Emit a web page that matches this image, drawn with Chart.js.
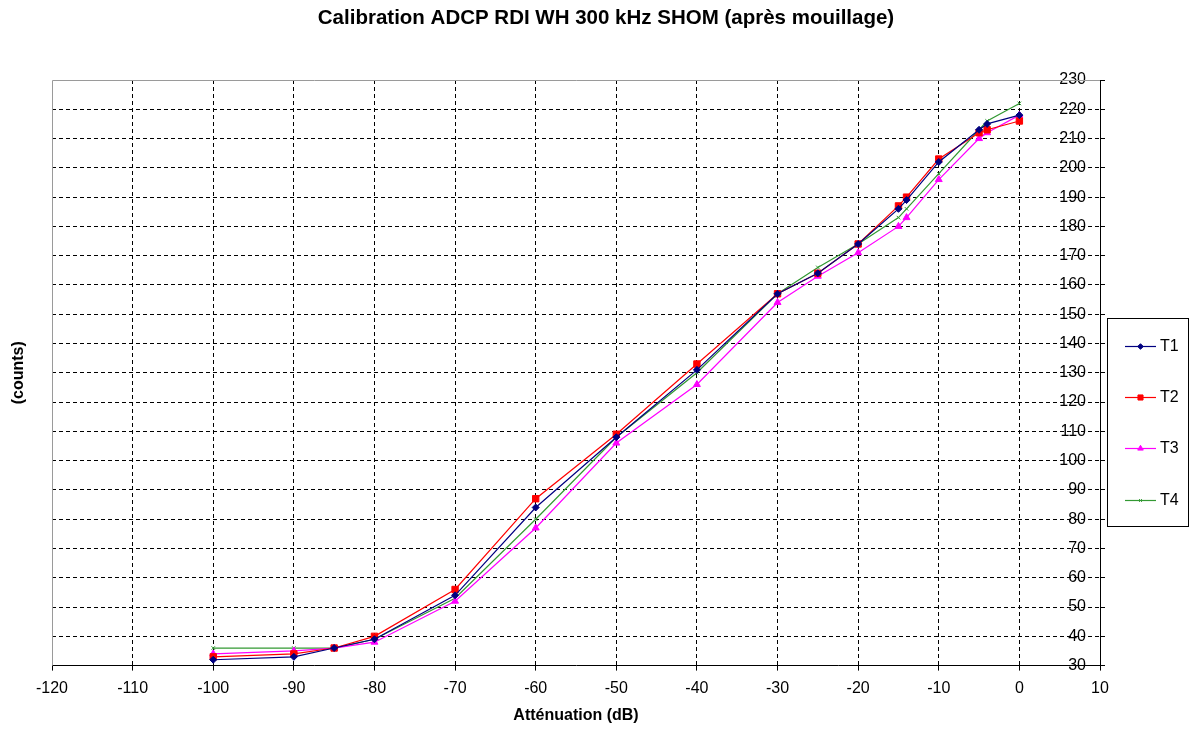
<!DOCTYPE html>
<html>
<head>
<meta charset="utf-8">
<script src="https://cdn.jsdelivr.net/npm/chart.js@4.4.0/dist/chart.umd.min.js"></script>
<style>
  html, body { margin: 0; padding: 0; background: #fff; }
  #wrap { width: 1191px; height: 731px; }
</style>
</head>
<body>
<div id="wrap"><canvas id="mycanvas" width="1191" height="731"></canvas></div>
<script>
// attenuation (dB)
var attenuation = [-100, -90, -85, -80, -70, -60, -50, -40, -30, -25, -20, -15, -14, -10, -5, -4, 0];
// counts per beam
var t1 = [32, 33, 36, 39, 54, 84, 108, 131, 157, 164, 174, 186, 189, 202, 213, 215, 218];
var t2 = [33, 34, 36, 40, 56, 87, 109, 133, 157, 164, 174, 187, 190, 203, 212, 213, 216];
var t3 = [34, 35, 36, 38, 52, 77, 106, 126, 154, 163, 171, 180, 183, 196, 210, 212, 218];
var t4 = [36, 36, 36, 39, 53, 80, 108, 130, 157, 166, 174, 183, 186, 198, 213, 216, 222];
var seriesNames = ['T1', 'T2', 'T3', 'T4'];
var chartTitle = 'Calibration ADCP RDI WH 300 kHz SHOM (après mouillage)';

var FONT = 'Liberation Sans, Arial, sans-serif';

function pts(ys) {
    var out = [];
    for (var i in attenuation) {
        out.push({x: attenuation[i], y: ys[i]});
    }
    return out;
}

function mkSet(label, ys, color, style, r) {
    return {
        label: label,
        data: pts(ys),
        borderColor: color,
        backgroundColor: color,
        borderWidth: 1.2,
        pointStyle: style,
        pointRadius: r,
        pointBorderWidth: 1,
        pointBorderColor: color,
        pointBackgroundColor: color,
        tension: 0
    };
}

var chartdata = {
    datasets: [
        mkSet(seriesNames[0], t1, '#000080', 'rectRot', 3.5),
        mkSet(seriesNames[1], t2, '#ff0000', 'rect', 4.5),
        mkSet(seriesNames[2], t3, '#ff00ff', 'triangle', 4),
        mkSet(seriesNames[3], t4, '#339933', 'crossRot', 2.5)
    ]
};

// title, plot border, y title and boxed legend
var extras = {
    id: 'extras',
    beforeDatasetsDraw: function(chart) {
        var a = chart.chartArea, c = chart.ctx;
        c.save();
        c.strokeStyle = '#9a9a9a';
        c.lineWidth = 1;
        c.beginPath();
        c.moveTo(a.left + 0.5, a.bottom);
        c.lineTo(a.left + 0.5, a.top + 0.5);
        c.lineTo(a.right, a.top + 0.5);
        c.stroke();
        c.restore();
    },
    afterDraw: function(chart) {
        var a = chart.chartArea, c = chart.ctx;
        c.save();
        c.font = 'bold 20.5px ' + FONT;
        c.fillStyle = '#000';
        c.textAlign = 'center';
        c.textBaseline = 'middle';
        c.fillText(chartTitle, 606, 18);
        c.restore();

        c.save();
        // y title on the left side
        c.translate(19, (a.top + a.bottom) / 2);
        c.rotate(-Math.PI / 2);
        c.font = 'bold 16px ' + FONT;
        c.fillStyle = '#000';
        c.textAlign = 'center';
        c.textBaseline = 'middle';
        c.fillText('(counts)', 0, 0);
        c.restore();

        // legend box
        c.save();
        c.strokeStyle = '#000';
        c.lineWidth = 1;
        c.fillStyle = '#fff';
        c.fillRect(1107.5, 318.5, 81, 208);
        c.strokeRect(1107.5, 318.5, 81, 208);
        var rows = [346, 397, 448, 500];
        chart.data.datasets.forEach(function(ds, i) {
            var y = rows[i];
            c.strokeStyle = ds.borderColor;
            c.fillStyle = ds.borderColor;
            c.lineWidth = 1.2;
            c.beginPath();
            c.moveTo(1125, y + 0.5);
            c.lineTo(1156, y + 0.5);
            c.stroke();
            c.lineWidth = 1;
            Chart.helpers.drawPoint(c, {pointStyle: ds.pointStyle, radius: ds.pointRadius * 0.8, borderWidth: 1}, 1140.5, y + 0.5);
            c.fillStyle = '#000';
            c.font = '16px ' + FONT;
            c.textAlign = 'left';
            c.textBaseline = 'middle';
            c.fillText(ds.label, 1160, y + 1);
        });
        c.restore();
    }
};

function gridColor(edgeA, edgeB) {
    return function(ctx) {
        if (!ctx.tick) return 'rgba(0,0,0,0)';
        var v = ctx.tick.value;
        if (v === edgeA || v === edgeB) return 'rgba(0,0,0,0)';
        return '#000';
    };
}

var ctx = document.getElementById('mycanvas');

var lineGraph = new Chart(ctx, {
    type: 'line',
    data: chartdata,
    plugins: [extras],
    options: {
        responsive: false,
        animation: false,
        layout: { padding: { left: 52, right: 91, top: 80, bottom: 0 } },
        plugins: {
            legend: { display: false },
            tooltip: { enabled: false },
            title: { display: false }
        },
        scales: {
            x: {
                type: 'linear',
                min: -120,
                max: 10,
                ticks: {
                    stepSize: 10,
                    color: '#000',
                    font: { family: FONT, size: 16 },
                    padding: 8,
                    maxRotation: 0
                },
                grid: {
                    color: gridColor(-120, 10),
                    lineWidth: 1,
                    drawTicks: true,
                    tickLength: 5,
                    tickColor: '#000',
                    tickBorderDash: []
                },
                border: { display: true, color: '#000', width: 1, dash: [4, 3] },
                title: {
                    display: true,
                    text: 'Atténuation (dB)',
                    color: '#000',
                    font: { family: FONT, size: 16, weight: 'bold' },
                    padding: { top: 0, bottom: 6 }
                }
            },
            y: {
                type: 'linear',
                position: 'right',
                min: 30,
                max: 230,
                ticks: {
                    stepSize: 10,
                    mirror: true,
                    padding: -14,
                    color: '#000',
                    font: { family: FONT, size: 16 }
                },
                grid: {
                    color: gridColor(30, 230),
                    lineWidth: 1,
                    drawTicks: true,
                    tickLength: 5,
                    tickColor: '#000',
                    tickBorderDash: []
                },
                border: { display: true, color: '#000', width: 1, dash: [4, 3] }
            }
        }
    }
});
</script>
</body>
</html>
